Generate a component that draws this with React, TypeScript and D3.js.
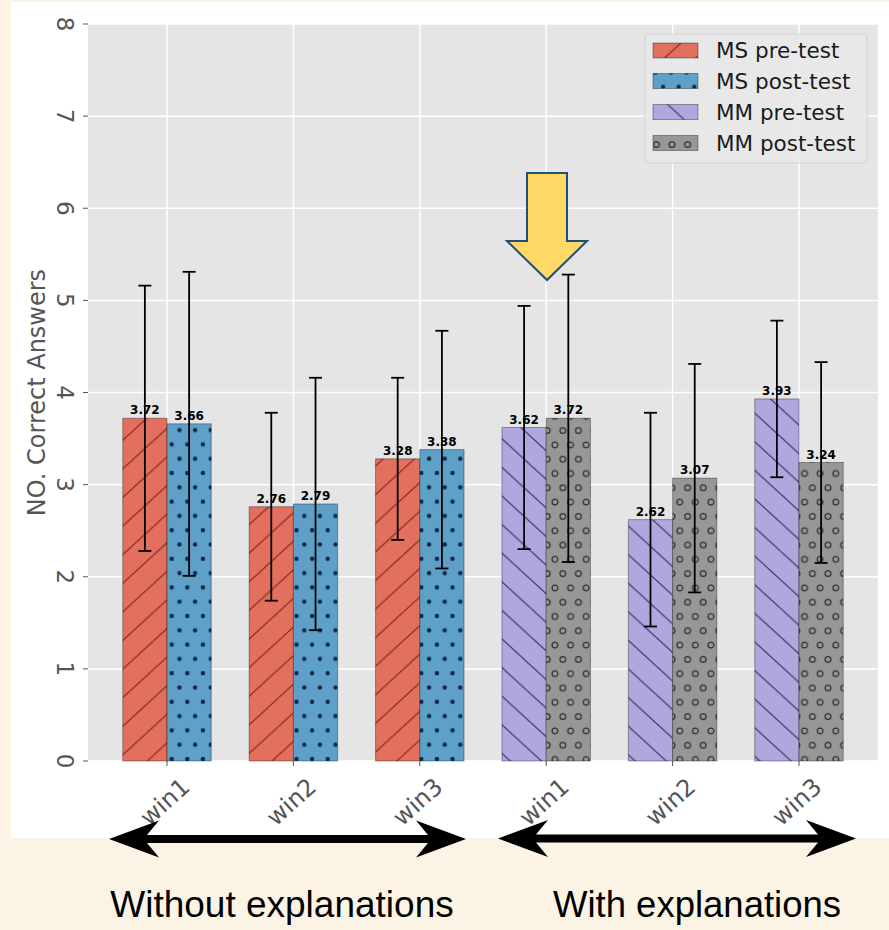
import React from "react";
import * as d3 from "d3";

const tickLabels = ["win1", "win2", "win3", "win1", "win2", "win3"];
const yTicks = [0, 1, 2, 3, 4, 5, 6, 7, 8];

const msPre = [3.72, 2.76, 3.28];
const msPreErr = [1.44, 1.02, 0.88];
const msPost = [3.66, 2.79, 3.38];
const msPostErr = [1.65, 1.37, 1.29];
const mmPre = [3.62, 2.62, 3.93];
const mmPreErr = [1.32, 1.16, 0.85];
const mmPost = [3.72, 3.07, 3.24];
const mmPostErr = [1.56, 1.24, 1.09];

const legendLabels = ["MS pre-test", "MS post-test", "MM pre-test", "MM post-test"];
const groupLabels = ["Without explanations", "With explanations"];

const W = 889;
const H = 930;
const L = 88, R = 878, T = 24, B = 761;
const BW = 0.35;

const x = d3.scaleLinear().domain([-0.625, 5.625]).range([L, R]);
const y = d3.scaleLinear().domain([0, 8]).range([B, T]);

type Series = { vals: number[]; errs: number[]; start: number; off: number; fill: string; pat: string };
const series: Series[] = [
  { vals: msPre, errs: msPreErr, start: 0, off: -BW, fill: "#E36F5E", pat: "hatchRed" },
  { vals: msPost, errs: msPostErr, start: 0, off: 0, fill: "#5FA0C8", pat: "dotsBlue" },
  { vals: mmPre, errs: mmPreErr, start: 3, off: -BW, fill: "#B0A7DE", pat: "hatchPurple" },
  { vals: mmPost, errs: mmPostErr, start: 3, off: 0, fill: "#979797", pat: "circGray" },
];

const TW = 15.6, TH = 28.6;

function Patterns() {
  return (
    <defs>
      <pattern id="hatchRed" patternUnits="userSpaceOnUse" x={122.3} y={583.7} width={TW * 2} height={TH}>
        <line x1={-TW * 2} y1={TH} x2={0} y2={0} stroke="#7a2418" strokeWidth={1.1} />
        <line x1={0} y1={TH} x2={TW * 2} y2={0} stroke="#7a2418" strokeWidth={1.1} />
        <line x1={TW * 2} y1={TH} x2={TW * 4} y2={0} stroke="#7a2418" strokeWidth={1.1} />
      </pattern>
      <pattern id="hatchPurple" patternUnits="userSpaceOnUse" x={500} y={580} width={TW * 2} height={TH}>
        <line x1={-TW * 2} y1={0} x2={0} y2={TH} stroke="#2f2b5c" strokeWidth={1.1} />
        <line x1={0} y1={0} x2={TW * 2} y2={TH} stroke="#2f2b5c" strokeWidth={1.1} />
        <line x1={TW * 2} y1={0} x2={TW * 4} y2={TH} stroke="#2f2b5c" strokeWidth={1.1} />
      </pattern>
      <pattern id="dotsBlue" patternUnits="userSpaceOnUse" x={171.7} y={759} width={TW} height={TH}>
        {[[0, 0], [TW, 0], [0, TH], [TW, TH], [TW / 2, TH / 2]].map(([a, b], i) => (
          <circle key={i} cx={a} cy={b} r={2.2} fill="#0d2a45" />
        ))}
      </pattern>
      <pattern id="circGray" patternUnits="userSpaceOnUse" x={555} y={530.7} width={TW} height={TH}>
        {[[0, 0], [TW, 0], [0, TH], [TW, TH], [TW / 2, TH / 2]].map(([a, b], i) => (
          <circle key={i} cx={a} cy={b} r={2.9} fill="none" stroke="#2e2e2e" strokeWidth={1.2} />
        ))}
      </pattern>
    </defs>
  );
}

function StealthArrow({ x1, x2, cy }: { x1: number; x2: number; cy: number }) {
  const hl = 50, hh = 18.5, notch = 12, sw = 4;
  const p = [
    [x1, cy],
    [x1 + hl, cy - hh],
    [x1 + hl - notch, cy - sw],
    [x2 - hl + notch, cy - sw],
    [x2 - hl, cy - hh],
    [x2, cy],
    [x2 - hl, cy + hh],
    [x2 - hl + notch, cy + sw],
    [x1 + hl - notch, cy + sw],
    [x1 + hl, cy + hh],
  ];
  return <path d={"M" + p.map((q) => q.join(",")).join("L") + "Z"} fill="#000" />;
}

export default function App() {
  const bw = x(BW) - x(0);
  const font = "DejaVu Sans, sans-serif";
  const gray = "#555555";
  const legY = [50.5, 81, 112, 143];
  return (
    <svg width={W} height={H} style={{ position: "absolute", left: 0, top: 0 }} xmlns="http://www.w3.org/2000/svg">
      <Patterns />
      <rect x={0} y={0} width={W} height={H} fill="#FBF4E4" />
      <rect x={11} y={2} width={W - 11} height={836} fill="#FFFFFF" />
      <rect x={L} y={T} width={R - L} height={B - T} fill="#E5E5E5" />
      {yTicks.map((t) => (
        <line key={"gy" + t} x1={L} x2={R} y1={y(t)} y2={y(t)} stroke="#FFFFFF" strokeWidth={1.5} />
      ))}
      {tickLabels.map((_, i) => (
        <line key={"gx" + i} x1={x(i)} x2={x(i)} y1={T} y2={B} stroke="#FFFFFF" strokeWidth={1.5} />
      ))}
      {series.map((s, si) =>
        s.vals.map((v, i) => {
          const x0 = x(s.start + i + s.off);
          return (
            <g key={"b" + si + "-" + i}>
              <rect x={x0} y={y(v)} width={bw} height={y(0) - y(v)} fill={s.fill} />
              <rect x={x0} y={y(v)} width={bw} height={y(0) - y(v)} fill={`url(#${s.pat})`} />
              <rect x={x0} y={y(v)} width={bw} height={y(0) - y(v)} fill="none" stroke="#000" strokeOpacity={0.35} strokeWidth={1} />
            </g>
          );
        })
      )}
      {series.map((s, si) =>
        s.vals.map((v, i) => {
          const cx = x(s.start + i + s.off) + bw / 2;
          const hi = y(v + s.errs[i]);
          const lo = y(v - s.errs[i]);
          return (
            <g key={"e" + si + "-" + i} stroke="#000" strokeWidth={1.8}>
              <line x1={cx} x2={cx} y1={hi} y2={lo} />
              <line x1={cx - 6.5} x2={cx + 6.5} y1={hi} y2={hi} />
              <line x1={cx - 6.5} x2={cx + 6.5} y1={lo} y2={lo} />
            </g>
          );
        })
      )}
      {series.map((s, si) =>
        s.vals.map((v, i) => {
          const cx = x(s.start + i + s.off) + bw / 2;
          return (
            <text key={"t" + si + "-" + i} x={cx} y={y(v) - 4} textAnchor="middle" fontFamily={font} fontWeight="bold" fontSize={12} fill="#000">
              {v.toFixed(2)}
            </text>
          );
        })
      )}
      {yTicks.map((t) => (
        <g key={"yt" + t}>
          <line x1={L - 5} x2={L} y1={y(t)} y2={y(t)} stroke={gray} strokeWidth={1} />
          <text transform={`translate(65,${y(t)}) rotate(90)`} textAnchor="middle" dominantBaseline="central" fontFamily={font} fontSize={23} fill={gray}>
            {t}
          </text>
        </g>
      ))}
      {tickLabels.map((lab, i) => (
        <g key={"xt" + i}>
          <line x1={x(i)} x2={x(i)} y1={B} y2={B + 5} stroke={gray} strokeWidth={1} />
          <text transform={`translate(${x(i) - 2},802) rotate(-42)`} textAnchor="middle" dominantBaseline="central" fontFamily={font} fontSize={24} fill={gray}>
            {lab}
          </text>
        </g>
      ))}
      <text transform={`translate(45,${(T + B) / 2}) rotate(-90)`} textAnchor="middle" fontFamily={font} fontSize={24} fill={gray}>
        NO. Correct Answers
      </text>
      <rect x={645} y={34} width={222} height={129} rx={4} fill="#E8E8E8" fillOpacity={0.9} stroke="#D2D2D2" strokeWidth={1} />
      {legendLabels.map((lab, i) => {
        const s = series[i];
        return (
          <g key={"lg" + i}>
            <rect x={653} y={legY[i] - 7.5} width={45} height={15} fill={s.fill} />
            <rect x={653} y={legY[i] - 7.5} width={45} height={15} fill={`url(#${s.pat})`} />
            <rect x={653} y={legY[i] - 7.5} width={45} height={15} fill="none" stroke="#000" strokeOpacity={0.35} />
            <text x={716} y={legY[i]} dominantBaseline="central" fontFamily={font} fontSize={21.5} fill="#1a1a1a">
              {lab}
            </text>
          </g>
        );
      })}
      <path
        d="M527,173 L567,173 L567,241 L587,241 L547,280 L507,241 L527,241 Z"
        fill="#FFD966"
        stroke="#1F4E79"
        strokeWidth={2}
        strokeLinejoin="miter"
      />
      <StealthArrow x1={109} x2={466} cy={839} />
      <StealthArrow x1={498} x2={856} cy={838.5} />
      <text x={282} y={917} textAnchor="middle" fontFamily="Liberation Sans, Arial, sans-serif" fontSize={37} fill="#000">
        {groupLabels[0]}
      </text>
      <text x={697} y={917} textAnchor="middle" fontFamily="Liberation Sans, Arial, sans-serif" fontSize={36.5} fill="#000">
        {groupLabels[1]}
      </text>
    </svg>
  );
}
